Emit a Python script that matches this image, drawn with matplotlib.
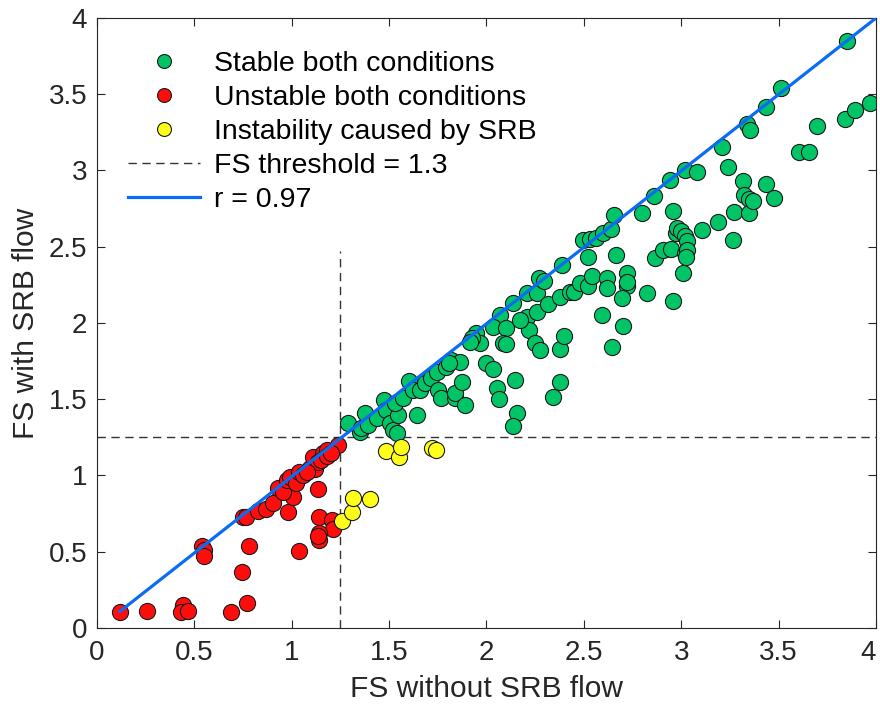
import matplotlib

matplotlib.use("Agg")
import matplotlib.pyplot as plt
from matplotlib.lines import Line2D

plt.rcParams["font.family"] = ["Liberation Sans", "DejaVu Sans"]

# FS without SRB flow (x) / with SRB flow (y)
stable_x = [1.287, 1.35, 1.355, 1.376, 1.39, 1.436, 1.474, 1.487, 1.505, 1.52, 1.54, 1.547,
            1.53, 1.573, 1.604, 1.624, 1.646, 1.66, 1.684, 1.718, 1.75, 1.766, 1.744, 1.795,
            1.82, 1.864, 1.84, 1.84, 1.89, 1.877, 1.946, 1.967, 1.925, 1.997, 2.035, 2.052,
            2.066, 2.07, 2.035, 2.10, 2.083, 2.138, 2.146, 2.158, 2.135, 2.206, 2.26, 2.22,
            2.25, 2.275, 2.34, 2.377, 2.38, 2.398, 1.81, 1.915, 2.10, 2.17, 2.206, 2.26,
            2.27, 2.297, 2.317, 2.377, 2.386, 2.43, 2.45, 2.48, 2.52, 2.54, 2.497, 2.52,
            2.53, 2.56, 2.60, 2.64, 2.656, 2.617, 2.617, 2.665, 2.72, 2.72, 2.697, 2.595,
            2.70, 2.646, 2.822, 2.865, 2.905, 2.945, 2.956, 2.973, 3.007, 3.02, 2.86, 2.80,
            2.956, 2.94, 3.02, 3.08, 3.105, 3.19, 3.264, 3.27, 3.24, 3.315, 3.32, 3.35,
            3.35, 3.853, 3.512, 3.435, 3.34, 3.353, 3.21, 3.605, 3.658, 3.695, 3.84, 3.892,
            3.97, 3.37, 3.435, 3.476, 2.976, 3.0, 3.02, 3.03, 3.03, 3.024, 2.72]
stable_y = [1.342, 1.287, 1.31, 1.408, 1.33, 1.375, 1.495, 1.43, 1.342, 1.30, 1.277, 1.397,
            1.473, 1.506, 1.62, 1.56, 1.397, 1.56, 1.605, 1.637, 1.56, 1.506, 1.68, 1.714,
            1.757, 1.746, 1.506, 1.54, 1.462, 1.615, 1.932, 1.867, 1.90, 1.736, 1.70, 1.572,
            1.50, 2.05, 1.976, 1.965, 1.867, 2.13, 1.626, 1.408, 1.325, 2.04, 2.07, 1.954,
            1.867, 1.823, 1.513, 1.615, 1.827, 1.915, 1.736, 1.877, 1.86, 2.02, 2.195, 2.195,
            2.293, 2.278, 2.123, 2.173, 2.38, 2.206, 2.2, 2.26, 2.243, 2.308, 2.544, 2.435,
            2.549, 2.56, 2.588, 2.614, 2.708, 2.293, 2.228, 2.446, 2.326, 2.24, 2.162, 2.05,
            1.98, 1.84, 2.195, 2.424, 2.479, 2.483, 2.146, 2.588, 2.33, 2.457, 2.833, 2.72,
            2.734, 2.94, 3.0, 2.99, 2.61, 2.665, 2.544, 2.73, 3.025, 2.933, 2.84, 2.81,
            2.72, 3.85, 3.543, 3.418, 3.305, 3.266, 3.156, 3.124, 3.124, 3.29, 3.335, 3.40,
            3.445, 2.80, 2.91, 2.82, 2.62, 2.6, 2.57, 2.535, 2.48, 2.43, 2.27]

unstable_x = [0.12, 0.26, 0.44, 0.43, 0.47, 0.69, 0.77, 0.745, 0.78, 0.54, 0.55, 0.55, 1.04,
              0.75, 0.765, 0.83, 0.866, 0.905, 0.98, 1.005, 0.93, 0.955, 0.974, 0.99, 1.025,
              1.04, 1.094, 1.12, 1.11, 1.136, 1.162, 1.184, 1.24, 1.136, 1.14, 1.205, 1.214,
              1.14, 1.14, 1.06, 1.08, 1.15, 1.18, 1.2, 1.136]
unstable_y = [0.107, 0.11, 0.15, 0.107, 0.11, 0.107, 0.166, 0.37, 0.54, 0.54, 0.51, 0.47, 0.505,
              0.726, 0.726, 0.77, 0.78, 0.82, 0.76, 0.86, 0.92, 0.895, 0.97, 0.99, 0.95,
              1.025, 1.047, 1.04, 1.12, 1.09, 1.146, 1.167, 1.2, 0.91, 0.73, 0.708, 0.647,
              0.62, 0.577, 1.0, 1.02, 1.1, 1.13, 1.15, 0.6]

srb_x = [1.26, 1.31, 1.317, 1.40, 1.487, 1.55, 1.56, 1.72, 1.74]
srb_y = [0.704, 0.763, 0.85, 0.844, 1.163, 1.12, 1.185, 1.18, 1.17]

threshold = 1.25
fit_x = [0.12, 4.0]
fit_y = [0.11, 4.0]

ticks = [0, 0.5, 1, 1.5, 2, 2.5, 3, 3.5, 4]
tick_labels = ["0", "0.5", "1", "1.5", "2", "2.5", "3", "3.5", "4"]

GREEN, RED, YELLOW, BLUE = "#00c466", "#ff0d0d", "#ffff1a", "#0a6cf5"

fig = plt.figure(figsize=(8.8, 7.06), dpi=100)
ax = fig.add_axes([0.110, 0.1105, 0.8855, 0.864])

ax.plot([threshold, threshold], [0, 2.47], "--", color="#333333", lw=1.0, dashes=(6, 4), zorder=1)
ax.plot([0, 4], [threshold, threshold], "--", color="#333333", lw=1.0, dashes=(6, 4), zorder=1)

kw = dict(s=135, edgecolors="#1a1a1a", linewidths=0.8, zorder=2)
ax.scatter(stable_x, stable_y, c=GREEN, **kw)
ax.scatter(unstable_x, unstable_y, c=RED, **kw)
ax.scatter(srb_x, srb_y, c=YELLOW, **kw)
ax.plot(fit_x, fit_y, color=BLUE, lw=2.3, zorder=3)

ax.set_xlim(0, 4)
ax.set_ylim(0, 4)
ax.set_xticks(ticks)
ax.set_xticklabels(tick_labels)
ax.set_yticks(ticks)
ax.set_yticklabels(tick_labels)
ax.tick_params(direction="in", length=6, width=0.8, colors="#262626", labelsize=20,
               top=True, right=True, pad=7)
ax.tick_params(axis="x", pad=9)
# keep the last x label inside the canvas
ax.get_xticklabels()[-1].set_horizontalalignment("right")
for sp in ax.spines.values():
    sp.set_color("#262626")
    sp.set_linewidth(0.8)
ax.set_xlabel("FS without SRB flow", fontsize=21.5, color="#262626", labelpad=6)
ax.set_ylabel("FS with SRB flow", fontsize=21.5, color="#262626", labelpad=6)

handles = [
    Line2D([], [], ls="", marker="o", ms=10, mfc=GREEN, mec="#1a1a1a", mew=0.8),
    Line2D([], [], ls="", marker="o", ms=10, mfc=RED, mec="#1a1a1a", mew=0.8),
    Line2D([], [], ls="", marker="o", ms=10, mfc=YELLOW, mec="#1a1a1a", mew=0.8),
    Line2D([], [], ls="--", color="#333333", lw=1.0, dashes=(6, 4)),
    Line2D([], [], color=BLUE, lw=2.3),
]
labels = ["Stable both conditions", "Unstable both conditions", "Instability caused by SRB",
          "FS threshold = 1.3", "r = 0.97"]
ax.legend(handles, labels, loc="upper left", bbox_to_anchor=(0.026, 0.964), borderaxespad=0,
          frameon=False, fontsize=20.5, handlelength=2.5, handletextpad=0.5, labelspacing=0.28)

fig.savefig("out.png", dpi=100)
